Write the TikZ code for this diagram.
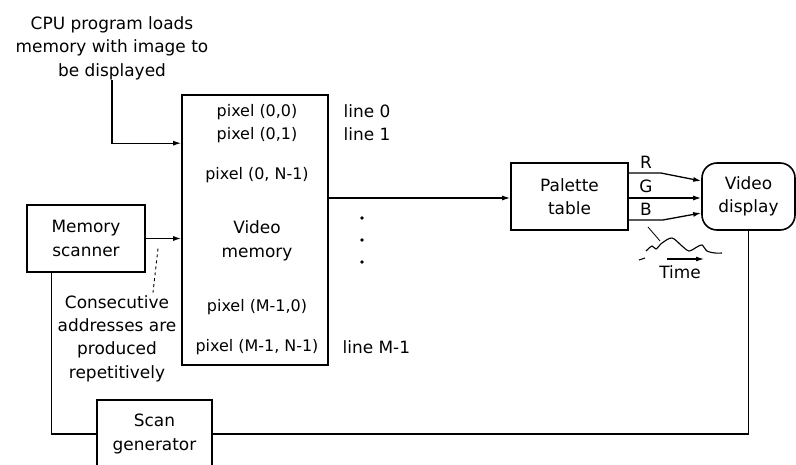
\documentclass[tikz,border=0pt]{standalone}
\usepackage{fontspec}
\setmainfont{DejaVu Sans}
\usetikzlibrary{arrows.meta, positioning, calc}
\tikzset{
  every picture/.style={line width=1.3bp, x=1bp, y=-1bp},
  box/.style={draw, align=center, inner sep=0pt, line width=1.6bp, font=\fontsize{17}{23.5}\selectfont},
  arrow/.style={-{Latex[length=8bp, width=5bp]}},
  note/.style={align=center, inner sep=0pt, font=\fontsize{17}{23.5}\selectfont},
  small/.style={inner sep=0pt, font=\fontsize{16}{20}\selectfont},
}

\begin{document}
\begin{tikzpicture}
  \useasboundingbox (0,0) rectangle (796,465);
  % boxes
  \node[box, minimum width=146bp, minimum height=270bp] (vmem) at (255,230) {};
  \node[box, minimum width=118bp, minimum height=67bp] (mscan) at (86,238.5) {Memory\\scanner};
  \node[box, minimum width=115bp, minimum height=68bp] (sgen) at (154.5,434) {Scan\\generator};
  \node[box, minimum width=117bp, minimum height=67bp] (pal) at (569.5,196.5) {Palette\\table};
  \node[box, minimum width=93bp, minimum height=67bp, rounded corners=15bp] (disp) at (748.5,196.5) {Video\\display};
  % texts
  \node[note] (cpu) at (112,48) {CPU program loads\\memory with image to\\be displayed};
  \node[note] (cons) at (117,338.5) {Consecutive\\addresses are\\produced\\repetitively};
  \node[note] (vtxt) at (257,241) {Video\\memory};
  \node[small] (p00) at (257,112) {pixel (0,0)};
  \node[small] (p01) at (257,135) {pixel (0,1)};
  \node[small] (p0n) at (257,175) {pixel (0, N-1)};
  \node[small] (pm0) at (257,307) {pixel (M-1,0)};
  \node[small] (pmn) at (257,347) {pixel (M-1, N-1)};
  \node[note, anchor=west] (l0) at (343,111) {line 0};
  \node[note, anchor=west] (l1) at (343,134) {line 1};
  \node[note, anchor=west] (lm) at (342,347) {line M-1};
  \foreach \y in {218,240,262}
    \fill (362,\y) circle (1.8bp);
  % connectors
  \draw[arrow] (cpu.south) |- ($(vmem.north west)+(0,49)$);
  \draw[arrow] (mscan.east) -- (mscan.east -| vmem.west);
  \draw[dashed, line width=0.9bp] ($(cons.north)+(41,-46)$) -- ($(cons.north)+(36,-2)$);
  \draw ($(mscan.south west)+(25,0)$) |- (sgen.west);
  \draw (sgen.east) -| (disp.south);
  \draw[arrow] ([yshift=-1.5bp]pal.west -| vmem.east) -- ([yshift=-1.5bp]pal.west);
  % R G B
  \draw[arrow] ([yshift=23.5bp]pal.east) -- ++(32,0) -- ([yshift=15.5bp]disp.west);
  \draw[arrow] ([yshift=-1.5bp]pal.east) -- ([yshift=-1.5bp]disp.west);
  \draw[arrow] ([yshift=-23.5bp]pal.east) -- ++(34,0) -- ([yshift=-16.5bp]disp.west);
  \node[note] (rl) at (646,162) {R};
  \node[note] (gl) at (646,186) {G};
  \node[note] (bl) at (646,209) {B};
  % signal over time
  \draw[line width=0.8bp] (648,227) -- (660,241);
  \draw[line width=1.1bp] plot[smooth, tension=0.5] coordinates {(646,251) (652,246) (656,249) (662,243) (672,238) (682,246) (689,251) (697,247) (702,245) (707,251) (715,253) (722,253)};
  \draw[line width=1.1bp] (639,260) -- (645,258);
  \draw[arrow, line width=1.1bp] (667,259) -- (704,259);
  \node[note] (time) at (680,272) {Time};
\end{tikzpicture}
\end{document}
